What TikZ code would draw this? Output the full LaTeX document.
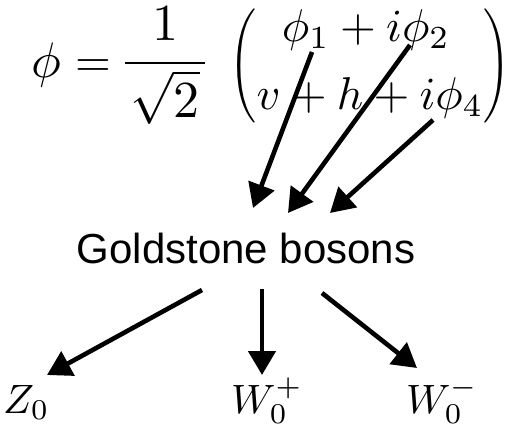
\documentclass[tikz,border=0pt]{standalone}
\usepackage{amsmath}
\usepackage{graphicx}
\usepackage{fontspec}
\setsansfont{Liberation Sans}
\usetikzlibrary{arrows.meta}
\tikzset{
  bigarrow/.style={line width=4.6pt,-{Triangle[length=24pt,width=27pt]}},
  mpart/.style={inner sep=0pt,anchor=base west},
  mrow/.style={inner sep=0pt,anchor=base},
  paren/.style={inner sep=0pt,anchor=center},
  lbl/.style={inner sep=0pt,anchor=base west},
  gold/.style={inner sep=0pt,anchor=base,font=\sffamily\fontsize{42}{46}\selectfont}
}
\newcommand{\mscale}[2]{\scalebox{#1}{$\displaystyle #2$}}
\begin{document}
\begin{tikzpicture}[x=1pt,y=-1pt]
\useasboundingbox (0,0) rectangle (514,433);
% equation
\node[mpart] (phi) at (31,78) {\mscale{5.0}{\phi}};
\node[mpart] (eqs) at (75,77) {\mscale{4.6}{=}};
\node[mpart] (frac) at (125,76) {\mscale{5.2}{\nulldelimiterspace=0pt\frac{1}{\kern1pt\sqrt{2}\kern1pt}}};
\node[paren] (lp) at (243,66) {\scalebox{3.4}[3.8]{$\Bigg($}};
\node[paren] (rp) at (497,66) {\scalebox{3.4}[3.8]{$\Bigg)$}};
\node[mrow] (row1) at (366,42) {\mscale{4.6}{\phi_1+i\phi_2}};
\node[mrow] (row2) at (370,110) {\mscale{4.6}{v+h+i\phi_4}};
% middle text and labels
\node[gold] (gb) at (246,263) {Goldstone bosons};
\node[lbl] (z) at (3,413) {\mscale{4.1}{Z_0}};
\node[lbl] (wp) at (231,413) {\mscale{4.1}{W_0^+}};
\node[lbl] (wm) at (406,413) {\mscale{4.1}{W_0^-}};
% arrows
\coordinate (s1) at (312,52);
\coordinate (t1) at (253,208);
\coordinate (s2) at (410,45);
\coordinate (t2) at (288,213);
\coordinate (s3) at (433,120);
\coordinate (t3) at (330,213);
\coordinate (b1) at (202,290);
\coordinate (u1) at (47,375);
\coordinate (b2) at (262,289);
\coordinate (u2) at (262,375);
\coordinate (b3) at (322,293);
\coordinate (u3) at (417,368);
\draw[bigarrow] (s1) -- (t1);
\draw[bigarrow] (s2) -- (t2);
\draw[bigarrow] (s3) -- (t3);
\draw[bigarrow] (b1) -- (u1);
\draw[bigarrow] (b2) -- (u2);
\draw[bigarrow] (b3) -- (u3);
\end{tikzpicture}
\end{document}
